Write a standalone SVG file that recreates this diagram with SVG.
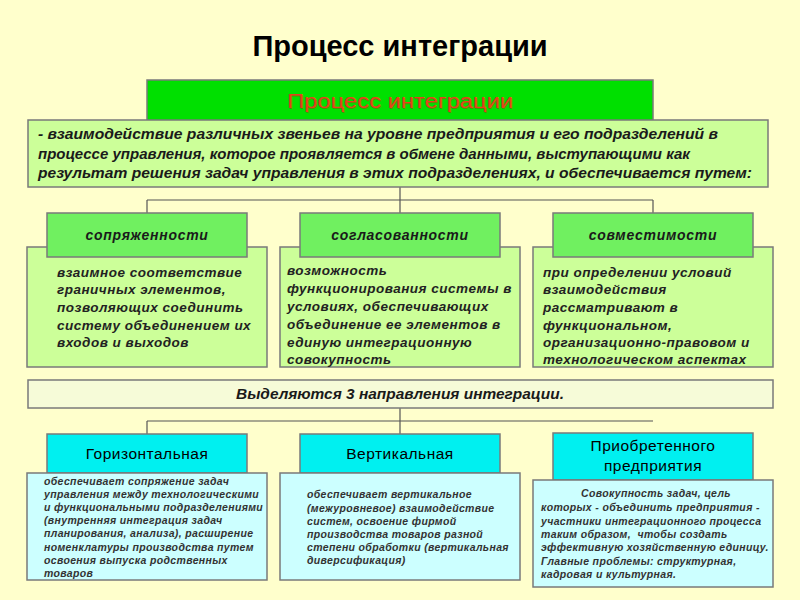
<svg xmlns="http://www.w3.org/2000/svg" width="800" height="600" viewBox="0 0 800 600">
<defs>
<style>
.bg{fill:#ffffcc}
.box{stroke:#7a7a7a;stroke-width:1.5}
.g1{fill:#00e000}
.g2{fill:#ccff99}
.g3{fill:#70f060}
.pale{fill:#f6fbd8}
.cy{fill:#00f0f0}
.lcy{fill:#ccffff}
.conn{stroke:#555;stroke-width:1.2;fill:none}
.title{font-family:"Liberation Sans",Arial,sans-serif;font-weight:bold;font-size:29px;fill:#000;text-anchor:middle}
.hdr{font-family:"Liberation Sans Narrow","Liberation Sans",Arial,sans-serif;font-size:20px;fill:#e8401a;text-anchor:middle}
.hdrs{font-family:"Liberation Sans Narrow","Liberation Sans",Arial,sans-serif;font-size:20px;fill:#a03010;opacity:0.45;text-anchor:middle}
.desc{font-family:"Liberation Sans Narrow","Liberation Sans",Arial,sans-serif;font-style:italic;font-weight:bold;font-size:15px;fill:#1a1a1a}
.sh{font-family:"Liberation Sans",Arial,sans-serif;font-style:italic;font-weight:bold;font-size:14px;fill:#1a1a1a;text-anchor:middle;letter-spacing:0.7px}
.ct{font-family:"Liberation Sans",Arial,sans-serif;font-style:italic;font-weight:bold;font-size:13.5px;fill:#222;letter-spacing:0.5px}
.cyh{font-family:"Liberation Sans",Arial,sans-serif;font-size:15.5px;fill:#000;text-anchor:middle;letter-spacing:0.5px}
.bt{font-family:"Liberation Sans",Arial,sans-serif;font-style:italic;font-weight:bold;font-size:10.5px;fill:#333;letter-spacing:0.35px}
</style>
</defs>
<rect class="bg" x="0" y="0" width="800" height="600"/>
<text class="title" x="400" y="56">Процесс интеграции</text>

<g id="connectors">
<path class="conn" d="M400 187 V200 M147 200 H653 M147 200 V213 M653 200 V213 M400 200 V213"/>
<path class="conn" d="M400 408 V434 M147 421 H653 M147 421 V434"/>
</g>

<g id="header">
<rect class="box g1" x="147" y="80" width="506" height="42"/>
<text class="hdrs" x="401" y="109" textLength="226" lengthAdjust="spacingAndGlyphs">Процесс интеграции</text>
<text class="hdr" x="400" y="108" textLength="226" lengthAdjust="spacingAndGlyphs">Процесс интеграции</text>
</g>

<g id="definition">
<rect class="box g2" x="28" y="120" width="740" height="67"/>
<text class="desc" x="38" y="139" textLength="680" lengthAdjust="spacingAndGlyphs">- взаимодействие различных звеньев на уровне предприятия и его подразделений в</text>
<text class="desc" x="38" y="159" textLength="652" lengthAdjust="spacingAndGlyphs">процессе управления, которое проявляется в обмене данными, выступающими как</text>
<text class="desc" x="38" y="178" textLength="714" lengthAdjust="spacingAndGlyphs">результат решения задач управления в этих подразделениях, и обеспечивается путем:</text>
</g>

<g id="conjugacy">
<rect class="box g2" x="27" y="247" width="240" height="120"/>
<rect class="box g3" x="47" y="213" width="200" height="44"/>
<text class="sh" x="147" y="240">сопряженности</text>
<text class="ct" x="57" y="277">взаимное соответствие</text>
<text class="ct" x="57" y="294">граничных элементов,</text>
<text class="ct" x="57" y="312">позволяющих соединить</text>
<text class="ct" x="57" y="330">систему объединением их</text>
<text class="ct" x="57" y="347">входов и выходов</text>
</g>

<g id="consistency">
<rect class="box g2" x="280" y="247" width="240" height="120"/>
<rect class="box g3" x="300" y="213" width="200" height="44"/>
<text class="sh" x="400" y="240">согласованности</text>
<text class="ct" x="287" y="275">возможность</text>
<text class="ct" x="287" y="293">функционирования системы в</text>
<text class="ct" x="287" y="311">условиях, обеспечивающих</text>
<text class="ct" x="287" y="329">объединение ее элементов в</text>
<text class="ct" x="287" y="347">единую интеграционную</text>
<text class="ct" x="287" y="364">совокупность</text>
</g>

<g id="compatibility">
<rect class="box g2" x="533" y="247" width="240" height="120"/>
<rect class="box g3" x="553" y="213" width="200" height="44"/>
<text class="sh" x="653" y="240">совместимости</text>
<text class="ct" x="543" y="277">при определении условий</text>
<text class="ct" x="543" y="294">взаимодействия</text>
<text class="ct" x="543" y="312">рассматривают в</text>
<text class="ct" x="543" y="330">функциональном,</text>
<text class="ct" x="543" y="347">организационно-правовом и</text>
<text class="ct" x="543" y="364">технологическом аспектах</text>
</g>

<g id="directions">
<rect class="box pale" x="28" y="380" width="745" height="28"/>
<text class="desc" x="400" y="399" text-anchor="middle" font-size="14.5" textLength="328" lengthAdjust="spacingAndGlyphs">Выделяются 3 направления интеграции.</text>
</g>

<g id="horizontal">
<rect class="box cy" x="47" y="434" width="200" height="39"/>
<text class="cyh" x="147" y="459">Горизонтальная</text>
<rect class="box lcy" x="27" y="473" width="240" height="107"/>
<text class="bt" x="44" y="485">обеспечивает сопряжение задач</text>
<text class="bt" x="44" y="498">управления между технологическими</text>
<text class="bt" x="44" y="511">и функциональными подразделениями</text>
<text class="bt" x="44" y="524">(внутренняя интеграция задач</text>
<text class="bt" x="44" y="537">планирования, анализа), расширение</text>
<text class="bt" x="44" y="551">номенклатуры производства путем</text>
<text class="bt" x="44" y="564">освоения выпуска родственных</text>
<text class="bt" x="44" y="577">товаров</text>
</g>

<g id="vertical">
<rect class="box cy" x="300" y="434" width="200" height="39"/>
<text class="cyh" x="400" y="459">Вертикальная</text>
<rect class="box lcy" x="280" y="473" width="240" height="107"/>
<text class="bt" x="307" y="498">обеспечивает вертикальное</text>
<text class="bt" x="307" y="512">(межуровневое) взаимодействие</text>
<text class="bt" x="307" y="525">систем, освоение фирмой</text>
<text class="bt" x="307" y="538">производства товаров разной</text>
<text class="bt" x="307" y="551">степени обработки (вертикальная</text>
<text class="bt" x="307" y="564">диверсификация)</text>
</g>

<g id="acquired">
<rect class="box cy" x="553" y="433" width="200" height="47"/>
<text class="cyh" x="653" y="451">Приобретенного</text>
<text class="cyh" x="653" y="471">предприятия</text>
<rect class="box lcy" x="533" y="480" width="240" height="107"/>
<text class="bt" x="581" y="497">Совокупность задач, цель</text>
<text class="bt" x="541" y="511">которых - объединить предприятия -</text>
<text class="bt" x="541" y="525">участники интеграционного процесса</text>
<text class="bt" x="541" y="538" xml:space="preserve">таким образом,  чтобы создать</text>
<text class="bt" x="541" y="551">эффективную хозяйственную единицу.</text>
<text class="bt" x="541" y="565">Главные проблемы: структурная,</text>
<text class="bt" x="541" y="578">кадровая и культурная.</text>
</g>
</svg>
